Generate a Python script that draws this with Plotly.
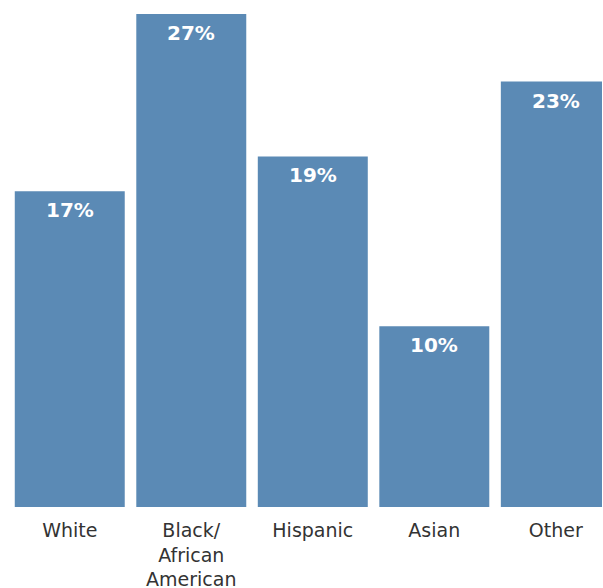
import plotly.graph_objects as go

categories = ["White", "Black/<br>African<br>American", "Hispanic", "Asian", "Other"]
values = [17.3, 27.0, 19.2, 9.9, 23.3]
labels = ["17%", "27%", "19%", "10%", "23%"]

bar_color = "#5b8ab5"

fig = go.Figure()
fig.add_trace(go.Bar(
    x=list(range(len(categories))),
    y=values,
    marker=dict(color=bar_color, line=dict(width=0)),
    hoverinfo="skip",
))

for i, (v, lab) in enumerate(zip(values, labels)):
    fig.add_annotation(
        x=i, y=v, text=lab, showarrow=False, yanchor="top", yshift=-5,
        font=dict(family="DejaVu Sans", size=20, color="white", weight="bold"),
    )

fig.update_layout(
    width=603, height=588,
    margin=dict(l=9, r=1, t=0, b=81),
    paper_bgcolor="white", plot_bgcolor="white",
    bargap=0.095,
    showlegend=False,
    xaxis=dict(
        range=[-0.5, 4.38],
        tickmode="array",
        tickvals=list(range(len(categories))),
        ticktext=categories,
        showgrid=False, zeroline=False, showline=False, ticks="",
        ticklabelstandoff=10,
        automargin=False,
        tickfont=dict(family="DejaVu Sans", size=19, color="#333333"),
    ),
    yaxis=dict(
        range=[0, 27.77],
        visible=False,
        automargin=False,
    ),
)

fig.write_html("out.html")
